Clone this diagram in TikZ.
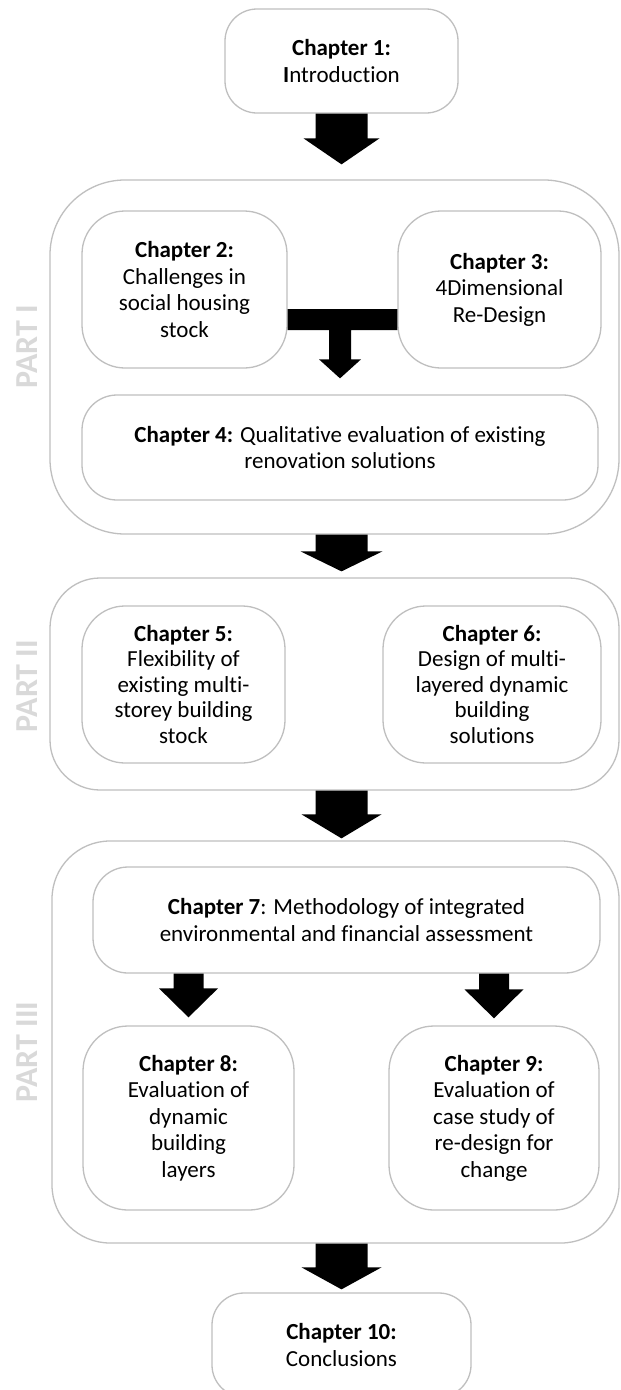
\documentclass[tikz,border=0pt]{standalone}
\usepackage{fontspec}
\setmainfont{Carlito}[Ligatures=NoCommon]
\usetikzlibrary{calc}

\definecolor{boxline}{HTML}{BFBFBF}
\definecolor{partgray}{HTML}{D9D9D9}

\tikzset{
  chapbox/.style={draw=boxline, line width=1.3pt, fill=white, rounded corners=#1,
    align=center, inner sep=0pt, font=\fontsize{23}{26.5}\selectfont},
  chapbox/.default=43pt,
  partbox/.style={draw=boxline, line width=1.3pt, rounded corners=#1, inner sep=0pt},
  partlabel/.style={rotate=90, text=partgray, inner sep=0pt,
    font=\fontsize{32}{32}\selectfont\bfseries},
  arrowfill/.style={fill=black},
}

% block arrow: #1 start, #2 tip, #3 shaft half-width, #4 head half-width, #5 head length
\newcommand{\chapterarrow}[5]{%
  \fill[arrowfill] let \p1=(#1), \p2=(#2) in
    (\x2-#3,\y1) -- (\x2+#3,\y1) -- (\x2+#3,\y2+#5) -- (\x2+#4,\y2+#5)
    -- (\x2,\y2) -- (\x2-#4,\y2+#5) -- (\x2-#3,\y2+#5) -- cycle;}

\begin{document}
\begin{tikzpicture}[x=1pt, y=-1pt]
  \fill[white] (0,0) rectangle (621,1390);
  \useasboundingbox (0,0) rectangle (621,1390);

  % part frames
  \node[partbox=75pt, minimum width=569pt, minimum height=354pt] (p1) at (334.5,357) {};
  \node[partbox=50pt, minimum width=569pt, minimum height=212pt] (p2) at (334.5,684) {};
  \node[partbox=58pt, minimum width=567pt, minimum height=402pt] (p3) at (335.5,1042) {};

  % part labels
  \node[partlabel] (lp1) at (27,347) {PART I};
  \node[partlabel] (lp2) at (27,686) {PART II};
  \node[partlabel] (lp3) at (27,1052) {PART III};

  % chapters
  \node[chapbox=32pt, minimum width=233pt, minimum height=104pt] (ch1) at (341.5,61)
    {\textbf{Chapter 1:}\\\textbf{I}ntroduction};
  \node[chapbox, minimum width=205pt, minimum height=157pt] (ch2) at (184.5,289.5)
    {\textbf{Chapter 2:}\\Challenges in\\social housing\\stock};
  \node[chapbox, minimum width=203pt, minimum height=157pt] (ch3) at (499.5,289.5)
    {\textbf{Chapter 3:}\\4Dimensional\\Re-Design};
  \node[chapbox=35pt, minimum width=516pt, minimum height=105pt] (ch4) at (340,447.5)
    {\textbf{Chapter 4:} Qualitative evaluation of existing\\renovation solutions};
  \node[chapbox, minimum width=203pt, minimum height=157pt,
        font=\fontsize{23}{25.5}\selectfont] (ch5) at (183.5,684.5)
    {\textbf{Chapter 5:}\\Flexibility of\\existing multi-\\storey building\\stock};
  \node[chapbox, minimum width=218pt, minimum height=157pt,
        font=\fontsize{23}{25.5}\selectfont] (ch6) at (492,684.5)
    {\textbf{Chapter 6:}\\Design of multi-\\layered dynamic\\building\\solutions};
  \node[chapbox=35pt, minimum width=507pt, minimum height=106pt] (ch7) at (346.5,920)
    {\textbf{Chapter 7}: Methodology of integrated\\environmental and financial assessment};
  \node[chapbox=45pt, minimum width=211pt, minimum height=184pt] (ch8) at (188.5,1118)
    {\textbf{Chapter 8:}\\Evaluation of\\dynamic\\building\\layers};
  \node[chapbox=45pt, minimum width=210pt, minimum height=184pt] (ch9) at (494,1118)
    {\textbf{Chapter 9:}\\Evaluation of\\case study of\\re-design for\\change};
  \node[chapbox=32pt, minimum width=259pt, minimum height=104pt] (ch10) at (341.5,1345)
    {\textbf{Chapter 10:}\\Conclusions};

  % arrow tips
  \coordinate (t1) at ($(p1.north -| ch1.south)+(0,-15)$);
  \coordinate (s2) at (p1.south -| ch1.south);
  \coordinate (t2) at ($(p2.north -| ch1.south)+(0,-6)$);
  \coordinate (s3) at (p2.south -| ch1.south);
  \coordinate (t3) at ($(p3.north -| ch1.south)+(0,-2)$);
  \coordinate (s4) at (p3.south -| ch10.north);
  \coordinate (t4) at ($(ch10.north)+(0,-3)$);
  \coordinate (s8) at (ch7.south -| ch8.north);
  \coordinate (t8) at ($(ch8.north)+(0,-8)$);
  \coordinate (s9) at (ch7.south -| ch9.north);
  \coordinate (t9) at ($(ch9.north)+(0,-7)$);

  % block arrows between stages
  \chapterarrow{ch1.south}{t1}{26pt}{38pt}{26pt}
  \chapterarrow{s2}{t2}{26pt}{41pt}{20pt}
  \chapterarrow{s3}{t3}{26pt}{40pt}{24pt}
  \chapterarrow{s4}{t4}{26pt}{40pt}{22pt}
  \chapterarrow{s8}{t8}{15pt}{29.5pt}{29pt}
  \chapterarrow{s9}{t9}{15pt}{29.5pt}{29pt}

  % joining arrow from chapters 2 and 3 into chapter 4
  \fill[arrowfill] let \p1=(ch2.east), \p2=(ch3.west), \p3=(ch4.north) in
    (\x1,\y1-19.5pt) -- (\x2,\y1-19.5pt) -- (\x2,\y1-40.5pt)
    -- (\x3+11pt,\y1-40.5pt) -- (\x3+11pt,\y3+35pt) -- (\x3+21pt,\y3+35pt)
    -- (\x3,\y3+16pt) -- (\x3-21pt,\y3+35pt) -- (\x3-11pt,\y3+35pt)
    -- (\x3-11pt,\y1-40.5pt) -- (\x1,\y1-40.5pt) -- cycle;
\end{tikzpicture}
\end{document}
